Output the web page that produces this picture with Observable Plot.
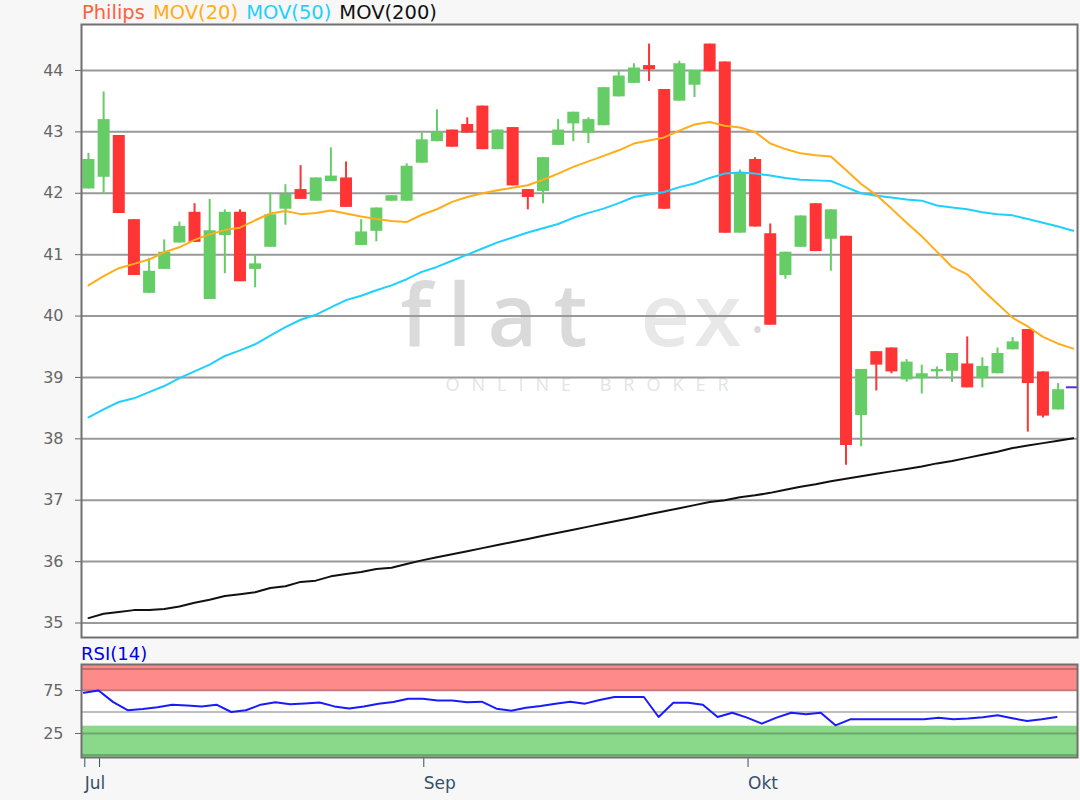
<!DOCTYPE html>
<html><head><meta charset="utf-8">
<script src="https://cdn.jsdelivr.net/npm/d3@7"></script>
<script src="https://cdn.jsdelivr.net/npm/@observablehq/plot@0.6"></script>
<style>
html,body{margin:0;padding:0;background:#f7f7f7;}
#wrap{position:relative;width:1080px;height:800px;font-family:"DejaVu Sans",sans-serif;overflow:hidden;}
.lbl{position:absolute;font-size:18px;white-space:nowrap;line-height:1;}
#main{position:absolute;left:0;top:0;}
#rsi{position:absolute;left:0;top:640px;}
#legend{font-size:19.5px;}
#legend span{margin-right:8px;}
</style></head><body>
<div id="wrap">
 <div id="main"></div>
 <div id="rsi"></div>
 <div class="lbl" id="legend" style="left:82px;top:3px;"></div>
 <div class="lbl" id="rsiLabel" style="left:81px;top:645px;color:#0000ee">RSI(14)</div>
</div>
<script>
// ---- data ----
const seriesNames = ["Philips", "MOV(20)", "MOV(50)", "MOV(200)"];
const seriesColors = ["#ff6040", "#ffad1a", "#1fd0ff", "#111111"];

const opens  = [42.07,42.26,42.94,41.57,40.37,40.76,41.19,41.69,40.27,41.31, 41.69,40.76,41.12,41.74,42.06,41.87,42.19,42.25,41.15,41.38, 41.87,41.87,42.49,42.84,43.03,43.12,43.42,42.71,43.07,42.06, 42.03,42.78,43.13,42.98,43.1,43.57,43.79,44.08,43.69,43.5, 43.76,44.43,44.14,41.35,42.55,41.34,40.66,41.12,41.83,41.25, 41.3,38.38,39.42,39.48,38.96,38.98,39.09,39.1,39.22,38.98, 39.06,39.45,39.78,39.09,38.47];
const closes = [42.55,43.2,41.67,40.66,40.73,41.04,41.46,41.2,41.39,41.69, 40.56,40.85,41.65,41.98,41.9,42.25,42.28,41.77,41.37,41.76, 41.96,42.44,42.87,43.0,42.75,42.98,42.71,43.03,42.12,41.93, 42.58,43.03,43.32,43.2,43.72,43.91,44.04,44.01,41.74,44.11, 44.0,43.98,41.35,42.34,41.45,39.85,41.04,41.63,41.05,41.73, 37.89,39.13,39.2,39.09,39.25,39.06,39.13,39.39,38.83,39.18, 39.39,39.58,38.9,38.37,38.8];
const highs  = [42.65,43.65,42.94,41.57,40.94,41.24,41.53,41.83,41.9,41.73, 41.73,41.0,42.0,42.14,42.45,42.25,42.74,42.51,41.57,41.76, 41.96,42.48,42.98,43.36,43.03,43.23,43.42,43.03,43.07,42.06, 42.58,43.2,43.32,43.23,43.72,44.0,44.11,44.43,43.69,44.15, 44.0,44.43,44.14,42.38,42.58,41.5,41.04,41.63,41.83,41.73, 41.3,39.13,39.42,39.48,39.29,39.2,39.17,39.39,39.66,39.32, 39.48,39.65,39.78,39.09,38.9];
const lows   = [42.07,41.98,41.67,40.66,40.37,40.76,41.19,41.2,40.27,40.69, 40.56,40.46,41.12,41.48,41.9,41.87,42.19,41.77,41.15,41.21, 41.87,41.87,42.49,42.84,42.75,42.98,42.71,42.71,42.12,41.73, 41.83,42.78,42.84,42.81,43.1,43.57,43.79,43.82,41.74,43.5, 43.56,43.98,41.35,41.35,41.45,39.85,40.6,41.12,41.05,40.73, 37.57,37.87,38.78,39.06,38.92,38.73,38.97,38.92,38.83,38.83, 39.06,39.45,38.11,38.34,38.47];

const mov20  = [40.5,40.65,40.78,40.85,40.92,41.04,41.12,41.24,41.33,41.4, 41.44,41.56,41.67,41.71,41.66,41.68,41.72,41.67,41.62,41.58, 41.55,41.53,41.65,41.74,41.86,41.94,42.0,42.05,42.09,42.13, 42.22,42.32,42.43,42.52,42.61,42.7,42.81,42.86,42.91,43.02, 43.12,43.16,43.1,43.07,43.0,42.81,42.72,42.65,42.62,42.6, 42.38,42.15,41.97,41.75,41.52,41.3,41.05,40.8,40.68,40.43, 40.2,39.97,39.83,39.66,39.55,39.47];
const mov50  = [38.35,38.48,38.6,38.66,38.76,38.86,38.99,39.1,39.21,39.35, 39.44,39.54,39.68,39.82,39.94,40.02,40.14,40.26,40.33,40.42, 40.5,40.6,40.72,40.8,40.9,41.0,41.1,41.2,41.28,41.36, 41.43,41.5,41.6,41.68,41.75,41.84,41.94,41.98,42.02,42.1, 42.16,42.25,42.32,42.34,42.32,42.29,42.25,42.22,42.21,42.2, 42.1,42.0,41.96,41.93,41.9,41.88,41.8,41.77,41.74,41.69, 41.66,41.64,41.58,41.52,41.46,41.39];
const mov200 = [35.08,35.15,35.18,35.21,35.21,35.23,35.27,35.33,35.38,35.44, 35.47,35.5,35.57,35.6,35.67,35.69,35.76,35.8,35.83,35.88, 35.9,35.96,36.02,36.07,36.12,36.17,36.22,36.27,36.32,36.37, 36.42,36.47,36.52,36.57,36.62,36.67,36.72,36.77,36.82,36.87, 36.92,36.97,37.0,37.05,37.08,37.12,37.17,37.22,37.26,37.31, 37.35,37.39,37.43,37.47,37.51,37.55,37.6,37.64,37.69,37.74, 37.79,37.85,37.89,37.93,37.97,38.01];
const lastPrice = 38.84;

const rsi14 = [72.3,75,61.5,52,53.5,55.5,58.5,57.5,56.5,58.5, 50,52,58.5,61.4,59,60,61,56.5,54,56.5, 59.5,61.5,65.3,65.3,63.4,63.4,61.4,62,53.8,51.5, 55,57,59.7,62,59.7,64,67.4,67.4,67.4,44.2, 60.8,60.8,58.5,44.2,49.2,43.4,36.4,43.4,49.2,47.3, 49.2,34.5,41.5,41.5,41.5,41.5,41.5,41.5,43.4,41.5, 42.5,44,46.2,42.7,39.5,41.5,44.2];

const yTicks = [35, 36, 37, 38, 39, 40, 41, 42, 43, 44];
const rsiTicks = [25, 75];
const rsiGrid = [0, 25, 75, 100];
const rsiMid = [50];
const bandLow = [74, -10];
const bandHigh = [110, 33.5];
const bandColors = ["#ff8a8a", "#8ad88a"];
const xTickIdx = [0, 1, 23, 45];
const xTickLabels = ["Jul", "", "Sep", "Okt"];

const upColor = "#66cc66", downColor = "#ff3535";

// ---- legend ----
const leg = document.getElementById("legend");
seriesNames.forEach((n, k) => {
  const s = document.createElement("span");
  s.textContent = n; s.style.color = seriesColors[k];
  leg.appendChild(s);
});

// ---- main chart ----
const candles = opens.map((o, i) => ({i, open: o, close: closes[i], high: highs[i], low: lows[i],
  col: closes[i] >= o ? upColor : downColor}));
const toPts = arr => arr.map((v, i) => ({i, v}));
const xMax = 65.28;

const main = Plot.plot({
  width: 1080, height: 640,
  marginLeft: 81, marginRight: 3, marginTop: 24, marginBottom: 3,
  x: {domain: [-0.46, xMax], axis: null},
  y: {domain: [34.764, 44.749], axis: null},
  color: {type: "identity"},
  style: {background: "transparent", fontFamily: "DejaVu Sans, sans-serif"},
  marks: [
    Plot.frame({fill: "white"}),
    Plot.text(["flat"], {text: d => d, frameAnchor: "top-left", dx: 319, dy: 321, textAnchor: "start", lineAnchor: "bottom", fontSize: 86, fontWeight: 600, fontFamily: "Open Sans", fill: "#dadada"}),
    Plot.text(["ex"], {text: d => d, frameAnchor: "top-left", dx: 559, dy: 321, textAnchor: "start", lineAnchor: "bottom", fontSize: 86, fontWeight: 600, fontFamily: "Open Sans", fill: "#e8e8e8"}),
    Plot.text(["\u2022"], {text: d => d, frameAnchor: "top-left", dx: 676, dy: 294, textAnchor: "middle", fontSize: 30, fontFamily: "Open Sans", fill: "#dadada"}),
    Plot.text(["ONLINE BROKER"], {text: d => d, frameAnchor: "top-left", dx: 364, dy: 354, textAnchor: "start", fontSize: 18, fontFamily: "Open Sans", fill: "#e4e4e4"}),
    Plot.ruleY(yTicks, {stroke: "#999", strokeWidth: 2}),
    Plot.axisY(yTicks, {tickSize: 6, tickPadding: 12, fontSize: 16, fill: "#666", stroke: "#666", label: null, tickFormat: d => String(d)}),
    Plot.ruleX(candles, {x: "i", y1: "low", y2: "high", stroke: "col", strokeWidth: 2}),
    Plot.ruleX(candles, {x: "i", y1: "open", y2: "close", stroke: "col", strokeWidth: 12}),
    Plot.line(toPts(mov200), {x: "i", y: "v", stroke: seriesColors[3], strokeWidth: 2}),
    Plot.line(toPts(mov50), {x: "i", y: "v", stroke: seriesColors[2], strokeWidth: 2}),
    Plot.line(toPts(mov20), {x: "i", y: "v", stroke: seriesColors[1], strokeWidth: 2}),
    Plot.ruleY([lastPrice], {x1: candles.length - 0.45, x2: xMax, stroke: "#5a2fd8", strokeWidth: 2}),
    Plot.frame({stroke: "#707070", strokeWidth: 2})
  ]
});
document.getElementById("main").appendChild(main);
d3.select(main).selectAll("text").filter(function(){ return this.textContent === "flat"; })
  .style("letter-spacing", "16px");
d3.select(main).selectAll("text").filter(function(){ return this.textContent === "ex"; })
  .style("letter-spacing", "4px");
d3.select(main).selectAll("text").filter(function(){ return this.textContent === "ONLINE BROKER"; })
  .style("letter-spacing", "12px");

// ---- RSI panel ----
const rsiPts = rsi14.map((v, j) => ({j, v}));
const bands = bandLow.map((lo, k) => ({lo, hi: bandHigh[k], fill: bandColors[k]}));
const rsi = Plot.plot({
  width: 1080, height: 160,
  marginLeft: 81, marginRight: 3, marginTop: 24, marginBottom: 43,
  x: {domain: [-0.156, 67.42], axis: null},
  y: {domain: [-2.9, 105.2], axis: null},
  color: {type: "identity"},
  style: {background: "transparent", fontFamily: "DejaVu Sans, sans-serif"},
  marks: [
    Plot.frame({fill: "white"}),
    Plot.rect(bands, {y1: "lo", y2: "hi", fill: "fill", clip: true}),
    Plot.ruleY(rsiGrid, {stroke: "#000", strokeOpacity: 0.22, strokeWidth: 2}),
    Plot.ruleY(rsiMid, {stroke: "#aaa", strokeWidth: 1.5}),
    Plot.line(rsiPts, {x: "j", y: "v", stroke: "#1a1aff", strokeWidth: 2}),
    Plot.axisY(rsiTicks, {tickSize: 6, tickPadding: 12, fontSize: 16, fill: "#666", stroke: "#666", label: null, tickFormat: d => String(d)}),
    Plot.axisX(xTickIdx, {tickSize: 10, tickPadding: 9, fontSize: 17, fill: "#34506b", stroke: "#34506b", textAnchor: "start", dx: 1, label: null,
      tickFormat: d => xTickLabels[xTickIdx.indexOf(d)]}),
    Plot.frame({stroke: "#707070", strokeWidth: 2})
  ]
});
document.getElementById("rsi").appendChild(rsi);
</script>
</body></html>
